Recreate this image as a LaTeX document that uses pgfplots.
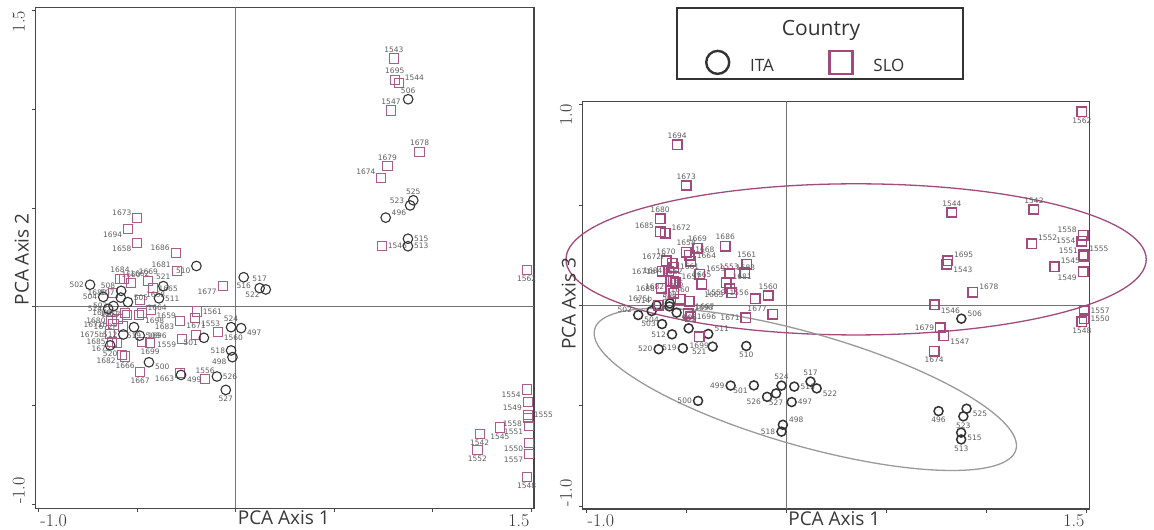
\documentclass[border=0pt]{standalone}
\usepackage{pgfplots}
\pgfplotsset{compat=1.18}
\usepackage{pgfplotstable}
\usepackage{fontspec}
\newfontfamily\osans{Open Sans}
\newfontfamily\dsans{DejaVu Sans}
\definecolor{slo}{HTML}{A24A7E}
\definecolor{ita}{HTML}{333333}
\definecolor{lbl}{HTML}{5E5E5E}
\definecolor{ellg}{HTML}{9A9A9A}

\pgfplotstableread{
lab x y2 y3 a2 a3
496 0.762 0.452 -0.526 200 90
497 0.028 -0.108 -0.481 160 180
498 -0.016 -0.255 -0.594 20 200
499 -0.277 -0.345 -0.399 160 0
500 -0.440 -0.281 -0.475 160 0
501 -0.161 -0.157 -0.398 20 20
502 -0.739 0.112 -0.048 0 340
503 -0.620 0.004 -0.093 0 0
504 -0.672 0.050 -0.028 0 90
505 -0.547 0.024 -0.036 200 160
506 0.876 1.052 -0.066 270 200
507 -0.583 0.047 -0.005 340 270
508 -0.581 0.081 0.010 340 270
509 -0.487 -0.146 -0.114 180 270
510 -0.199 0.207 -0.202 20 90
511 -0.389 0.043 -0.142 180 200
512 -0.570 -0.140 -0.144 0 0
513 0.875 0.307 -0.667 180 90
514 -0.647 -0.010 0.000 0 340
515 0.875 0.345 -0.633 180 160
516 0.041 0.150 -0.404 90 180
517 0.122 0.095 -0.379 270 270
518 -0.023 -0.221 -0.628 0 0
519 -0.516 -0.103 -0.213 90 0
520 -0.637 -0.195 -0.218 90 0
521 -0.367 0.105 -0.205 270 20
522 0.153 0.088 -0.413 20 160
523 0.886 0.514 -0.552 340 90
524 -0.023 -0.103 -0.399 270 270
525 0.902 0.540 -0.514 270 160
526 -0.095 -0.353 -0.455 180 20
527 -0.050 -0.421 -0.438 90 90
}\ita

\pgfplotstableread{
lab x y2 y3 a2 a3
1542 1.239 -0.643 0.477 90 270
1543 0.804 1.259 0.205 270 160
1544 0.829 1.134 0.462 200 270
1545 1.342 -0.612 0.193 90 200
1546 0.742 0.309 0.003 180 160
1547 0.789 0.995 -0.151 270 160
1548 1.478 -0.864 -0.081 90 90
1549 1.484 -0.484 0.168 20 20
1550 1.490 -0.690 -0.066 20 180
1551 1.490 -0.603 0.244 20 340
1552 1.228 -0.724 0.306 90 200
1553 -0.206 -0.057 0.162 160 340
1554 1.478 -0.419 0.320 20 0
1555 1.484 -0.548 0.252 180 200
1556 -0.155 -0.367 0.032 270 340
1557 1.490 -0.746 -0.027 20 180
1558 1.484 -0.565 0.349 20 340
1559 -0.271 -0.165 0.063 20 0
1560 -0.090 -0.129 0.049 160 270
1561 -0.197 -0.024 0.205 180 270
1562 1.478 0.185 0.963 90 90
1658 -0.499 0.325 0.264 20 270
1659 -0.431 -0.016 0.155 160 200
1660 -0.530 0.120 0.030 270 270
1662 -0.565 0.141 0.120 200 270
1663 -0.282 -0.337 0.083 20 20
1664 -0.477 -0.033 0.220 200 200
1665 -0.421 0.094 0.105 180 270
1666 -0.561 -0.252 0.060 90 270
1667 -0.485 -0.329 0.020 90 160
1668 -0.485 0.035 0.250 200 200
1669 -0.443 0.131 0.284 270 270
1670 -0.600 -0.060 0.221 340 270
1671 -0.201 -0.141 -0.061 270 0
1671b -0.620 -0.090 0.170 0 0
1672 -0.604 -0.185 0.359 20 200
1672P -0.570 -0.100 0.209 0 340
1673 -0.499 0.450 0.597 340 270
1674 0.740 0.654 -0.227 340 90
1675b -0.638 -0.139 0.000 0 340
1677 -0.066 0.106 -0.044 20 340
1678 0.934 0.785 0.066 270 200
1679 0.771 0.712 -0.112 270 0
1680 -0.630 -0.070 0.430 0 270
1681 -0.299 0.182 0.113 340 200
1682 -0.578 -0.244 0.120 20 20
1683 -0.282 -0.070 0.159 20 200
1684 -0.587 0.141 0.170 270 0
1685 -0.629 -0.177 0.367 0 340
1686 -0.304 0.271 0.294 340 270
1694 -0.545 0.393 0.800 20 270
1695 0.808 1.150 0.222 270 200
1696 -0.477 -0.177 -0.056 200 180
1698 -0.490 -0.040 -0.040 160 200
1699 -0.434 -0.185 -0.156 90 90
1657 -0.553 -0.041 0.113 0 200
1661 -0.561 -0.033 0.190 0 180
1688 -0.624 0.072 0.085 0 0
}\slo

\pgfplotsset{
  pcastyle/.style={
    scale only axis, clip=false,
    axis line style={draw=black!72, line width=1.1pt},
    tick style={draw=black!72, line width=0.8pt},
    major tick length=4pt, tick align=outside,
    xtick pos=bottom, ytick pos=left,
    ticklabel style={font=\fontsize{18}{20}\selectfont, text=black!80},
    xticklabel style={anchor=north west, inner sep=1.5pt},
    extra x tick style={xticklabel style={anchor=north east}},
    yticklabel style={rotate=90, anchor=base west, inner sep=0pt},
    extra y tick style={yticklabel style={anchor=base east}},
    yticklabel shift=7pt,
    label style={font=\osans\fontsize{19}{22}\selectfont, text=black!78},
  },
}

\begin{document}
\begin{tikzpicture}
\path[use as bounding box] (0pt,0pt) rectangle (1154pt,530pt);

% ---------------- left panel: PCA axis 1 vs 2 ----------------
\begin{axis}[pcastyle,
  at={(35.7pt,21.5pt)}, anchor=south west,
  width=498.3pt, height=501pt,
  xmin=-1.015, xmax=1.515, ymin=-1.022, ymax=1.517,
  xtick={-1,-0.5,0,0.5,1}, xticklabels={{-1.0},{},{},{},{}},
  extra x ticks={1.5}, extra x tick labels={1.5},
  ytick={-1,-0.5,0,0.5,1}, yticklabels={{-1.0},{},{},{},{}},
  extra y ticks={1.5}, extra y tick labels={1.5},
  xlabel={PCA Axis 1}, ylabel={PCA Axis 2},
  xlabel style={at={(axis description cs:0.4012,0)}, anchor=north west, inner sep=2pt},
  ylabel style={at={(axis description cs:-0.014,0.405)}, anchor=base west, inner sep=0pt},
]
\draw[black!55, line width=0.8pt] (axis cs:0,-1.022) -- (axis cs:0,1.517);
\draw[black!55, line width=0.8pt] (axis cs:-1.015,0) -- (axis cs:1.515,0);
\addplot[only marks, mark=square, mark size=4.6pt, line width=1pt, color=slo!90!white,
  nodes near coords, point meta=explicit symbolic,
  visualization depends on={\thisrow{a2}\as\anch},
  every node near coord/.append style={anchor=\anch, inner sep=5.5pt,
    font=\dsans\fontsize{7.5}{8}\selectfont, text=lbl}]
  table[x=x, y=y2, meta=lab] {\slo};
\addplot[only marks, mark=o, mark size=4.8pt, line width=1.1pt, color=ita,
  nodes near coords, point meta=explicit symbolic,
  visualization depends on={\thisrow{a2}\as\anch},
  every node near coord/.append style={anchor=\anch, inner sep=5.5pt,
    font=\dsans\fontsize{7.5}{8}\selectfont, text=lbl}]
  table[x=x, y=y2, meta=lab] {\ita};
\end{axis}

% ---------------- right panel: PCA axis 1 vs 3 ----------------
\begin{axis}[pcastyle,
  at={(582.8pt,21pt)}, anchor=south west,
  width=507pt, height=407.6pt,
  xmin=-1.016, xmax=1.518, ymin=-1.013, ymax=1.015,
  xtick={-1,-0.5,0,0.5,1}, xticklabels={{-1.0},{},{},{},{}},
  extra x ticks={1.5}, extra x tick labels={1.5},
  ytick={-1,-0.5,0,0.5}, yticklabels={{-1.0},{},{},{}},
  extra y ticks={1}, extra y tick labels={1.0},
  xlabel={PCA Axis 1}, ylabel={PCA Axis 3},
  xlabel style={at={(axis description cs:0.401,0)}, anchor=north west, inner sep=2pt},
  ylabel style={at={(axis description cs:-0.0144,0.504)}, anchor=base, inner sep=0pt},
  legend columns=2,
  legend style={draw=none, fill=none, at={(axis description cs:0.243,1.094)}, anchor=west,
    inner sep=0pt, font=\osans\fontsize{17}{20}\selectfont, text=black!80,
    /tikz/every odd column/.append style={column sep=19pt},
    /tikz/every even column/.append style={column sep=53.5pt}},
  legend image code/.code={\draw[#1, mark size=11.5pt, line width=2.4pt] plot coordinates {(12pt,4pt)};},
]
\draw[black!55, line width=0.8pt] (axis cs:0,-1.013) -- (axis cs:0,1.015);
\draw[black!55, line width=0.8pt] (axis cs:-1.016,0) -- (axis cs:1.518,0);
\addplot[only marks, mark=o, mark size=4.5pt, line width=1.5pt, color=ita,
  nodes near coords, point meta=explicit symbolic,
  visualization depends on={\thisrow{a3}\as\anch},
  every node near coord/.append style={anchor=\anch, inner sep=5.5pt,
    font=\dsans\fontsize{7.5}{8}\selectfont, text=lbl}]
  table[x=x, y=y3, meta=lab] {\ita};
\addlegendentry{ITA}
\addplot[only marks, mark=square, mark size=4.7pt, line width=1.6pt, color=slo,
  nodes near coords, point meta=explicit symbolic,
  visualization depends on={\thisrow{a3}\as\anch},
  every node near coord/.append style={anchor=\anch, inner sep=5.5pt,
    font=\dsans\fontsize{7.5}{8}\selectfont, text=lbl}]
  table[x=x, y=y3, meta=lab] {\slo};
\addlegendentry{SLO}
\draw[slo, line width=1.3pt] (axis cs:0.35,0.229) ellipse [x radius=1.45, y radius=0.376];
\draw[ellg, line width=1.3pt, rotate around={-16:(axis cs:0.096,-0.418)}]
  (axis cs:0.096,-0.418) ellipse [x radius=1.095, y radius=0.28];
\end{axis}

% legend frame and title
\draw[black!80, line width=1.5pt] (677pt,451pt) rectangle (963pt,522pt);
\node[font=\osans\fontsize{21}{24}\selectfont, text=black!80] at (821pt,500pt) {Country};
\end{tikzpicture}
\end{document}
